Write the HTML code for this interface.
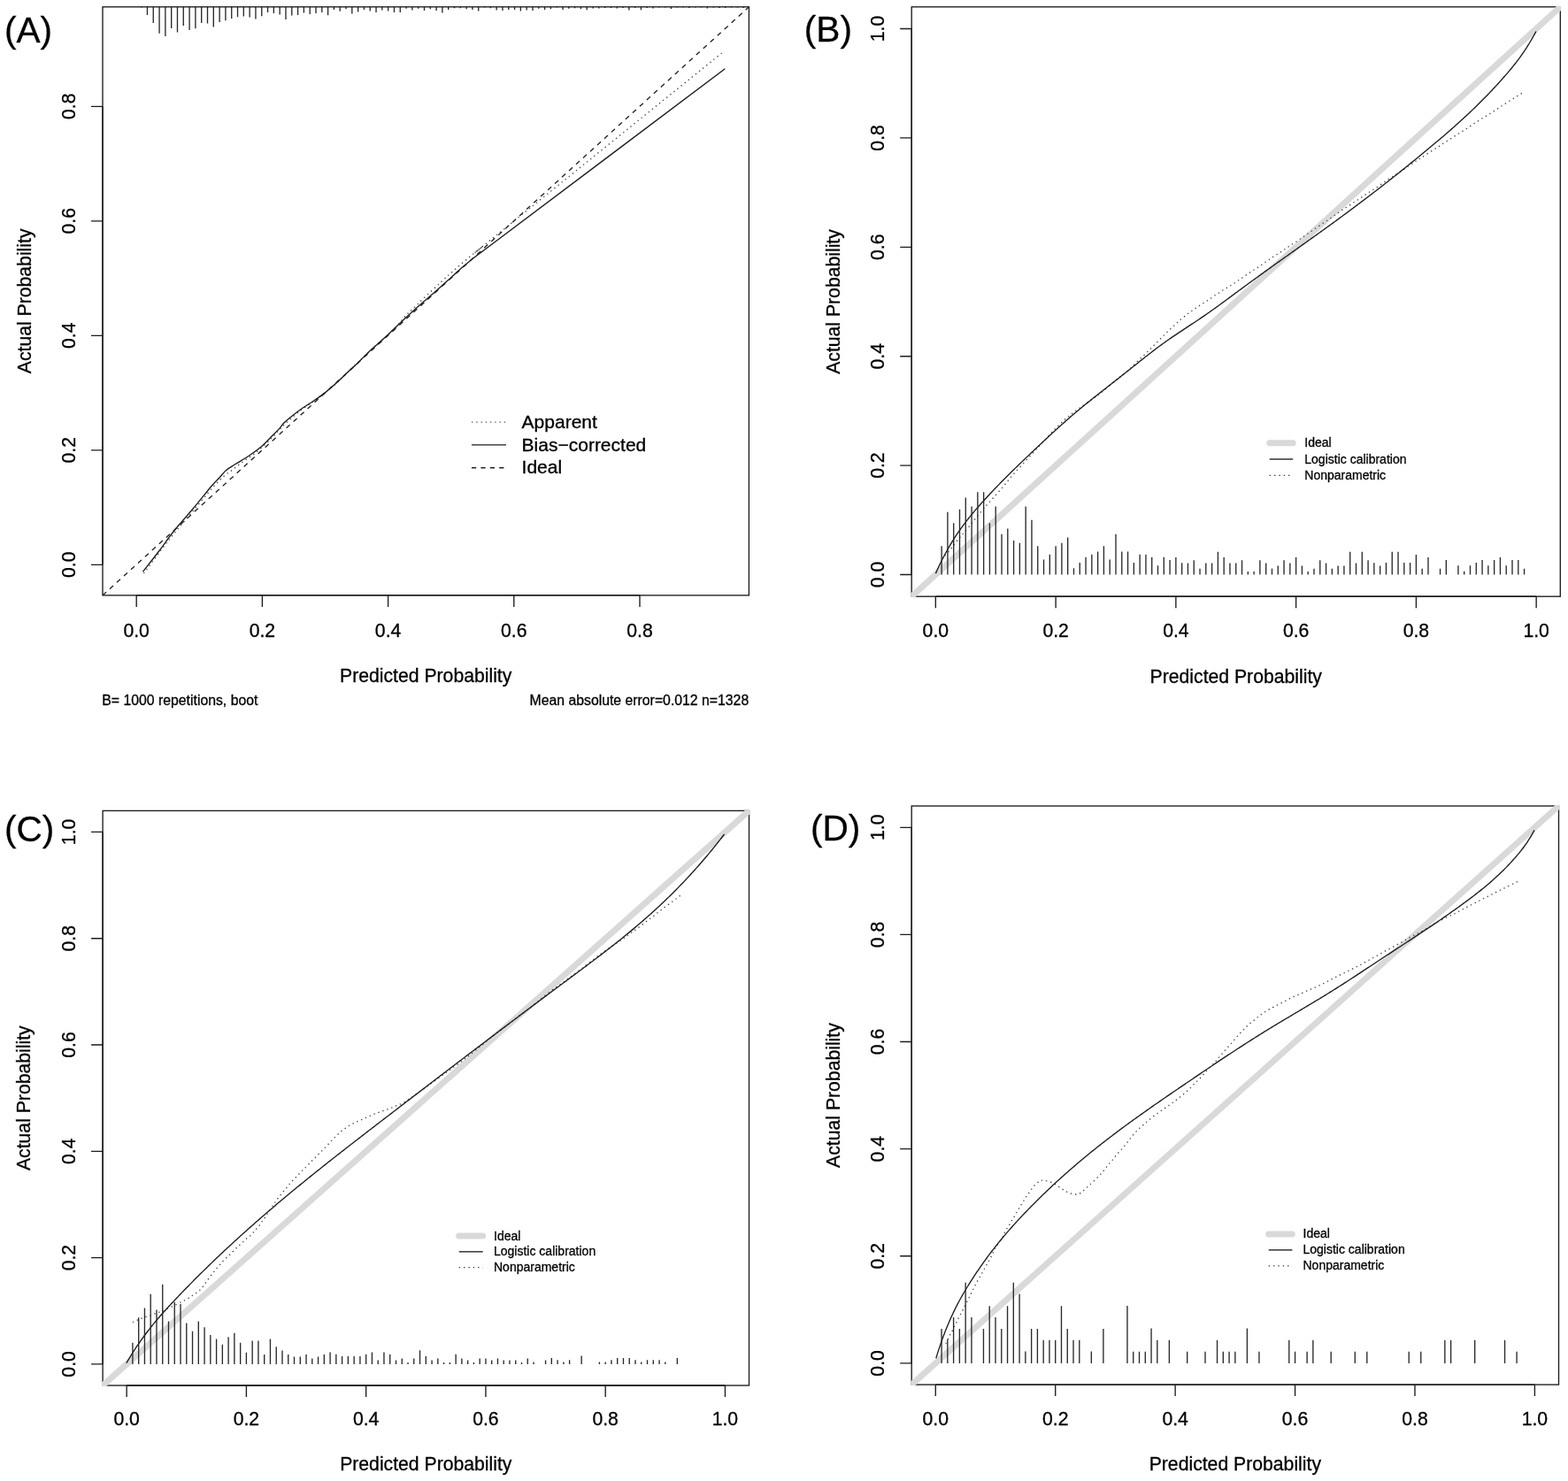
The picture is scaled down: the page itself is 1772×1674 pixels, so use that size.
<!DOCTYPE html>
<html><head><meta charset="utf-8"><title>Calibration curves</title>
<style>html,body{margin:0;padding:0;background:#fff;}svg{display:block;}text{font-family:"Liberation Sans", Arial, Helvetica, sans-serif;fill:#000;stroke:#000;stroke-width:0.3px;}</style>
</head><body>
<svg xmlns="http://www.w3.org/2000/svg" width="1772" height="1674" viewBox="0 0 1772 1674">
<rect width="1772" height="1674" fill="#fff"/>
<defs><clipPath id="cA"><rect x="116" y="7.8" width="730.4" height="665.1"/></clipPath><clipPath id="cB"><rect x="1030.2" y="7.8" width="733.1" height="666.4"/></clipPath><clipPath id="cC"><rect x="116.1" y="916.4" width="730.4" height="649.6"/></clipPath><clipPath id="cD"><rect x="1030.2" y="911" width="731.3" height="654.1"/></clipPath><clipPath id="gB"><rect x="1029.2" y="6.8" width="735.1" height="668.4"/></clipPath><clipPath id="gC"><rect x="115.1" y="915.4" width="732.4" height="651.6"/></clipPath><clipPath id="gD"><rect x="1029.2" y="910" width="733.3" height="656.1"/></clipPath></defs>
<path d="M154.2 672.9 V685.9 M296.4 672.9 V685.9 M438.6 672.9 V685.9 M580.8 672.9 V685.9 M723 672.9 V685.9 M116 638.3 H103 M116 508.8 H103 M116 379.3 H103 M116 249.8 H103 M116 120.3 H103 M154.2 672.9 H723 M116 638.3 V120.3" stroke="#1c1c1c" stroke-width="1.35" fill="none"/>
<text x="154.2" y="720" text-anchor="middle" font-size="21.2">0.0</text>
<text x="296.4" y="720" text-anchor="middle" font-size="21.2">0.2</text>
<text x="438.6" y="720" text-anchor="middle" font-size="21.2">0.4</text>
<text x="580.8" y="720" text-anchor="middle" font-size="21.2">0.6</text>
<text x="723" y="720" text-anchor="middle" font-size="21.2">0.8</text>
<text transform="translate(85.2 638.3) rotate(-90)" text-anchor="middle" font-size="21.2">0.0</text>
<text transform="translate(85.2 508.8) rotate(-90)" text-anchor="middle" font-size="21.2">0.2</text>
<text transform="translate(85.2 379.3) rotate(-90)" text-anchor="middle" font-size="21.2">0.4</text>
<text transform="translate(85.2 249.8) rotate(-90)" text-anchor="middle" font-size="21.2">0.6</text>
<text transform="translate(85.2 120.3) rotate(-90)" text-anchor="middle" font-size="21.2">0.8</text>
<text x="481.2" y="771.3" text-anchor="middle" font-size="21.2">Predicted Probability</text>
<text transform="translate(34.9 340.35) rotate(-90)" text-anchor="middle" font-size="21.2">Actual Probability</text>
<path d="M159.65 7.8 v0.6 M166.46 7.8 v9.1 M173.26 7.8 v18.1 M180.06 7.8 v30 M186.87 7.8 v33.3 M193.68 7.8 v24.2 M200.48 7.8 v28.7 M207.28 7.8 v21.1 M214.09 7.8 v26.2 M220.9 7.8 v24.4 M227.7 7.8 v18.1 M234.5 7.8 v18.8 M241.31 7.8 v22.6 M248.12 7.8 v17.3 M254.92 7.8 v15.4 M261.73 7.8 v13.2 M268.53 7.8 v11.4 M275.34 7.8 v10.7 M282.14 7.8 v11.7 M288.94 7.8 v13.7 M295.75 7.8 v10.4 M302.56 7.8 v6.3 M309.36 7.8 v7.3 M316.16 7.8 v8.6 M322.97 7.8 v14.2 M329.77 7.8 v9.7 M336.58 7.8 v9.1 M343.38 7.8 v6.6 M350.19 7.8 v8.3 M357 7.8 v7.3 M363.8 7.8 v6.3 M370.61 7.8 v9.5 M377.41 7.8 v3.1 M384.22 7.8 v4.9 M391.02 7.8 v2.5 M397.82 7.8 v7.6 M404.63 7.8 v5.6 M411.44 7.8 v3.3 M418.24 7.8 v4.6 M425.04 7.8 v6.1 M431.85 7.8 v3.6 M438.65 7.8 v4.6 M445.46 7.8 v6.1 M452.26 7.8 v6.1 M459.07 7.8 v2 M465.88 7.8 v3.6 M472.68 7.8 v2 M479.49 7.8 v4.1 M486.29 7.8 v2.5 M493.1 7.8 v4.1 M499.9 7.8 v6.6 M506.71 7.8 v3.1 M513.51 7.8 v1.5 M520.31 7.8 v1.5 M527.12 7.8 v2.5 M533.92 7.8 v3.3 M540.73 7.8 v4.6 M547.53 7.8 v0.6 M554.34 7.8 v1.5 M561.14 7.8 v3.6 M567.95 7.8 v4.1 M574.75 7.8 v3.1 M581.56 7.8 v3.1 M588.37 7.8 v4.6 M595.17 7.8 v3.6 M601.98 7.8 v4.1 M608.78 7.8 v2 M615.59 7.8 v3.1 M622.39 7.8 v2.5 M629.19 7.8 v0.6 M636 7.8 v3.3 M642.8 7.8 v2 M649.61 7.8 v1.5 M656.41 7.8 v2.5 M663.22 7.8 v3.4 M670.02 7.8 v1.7 M676.83 7.8 v1.7 M683.63 7.8 v1.2 M690.44 7.8 v1.2 M697.25 7.8 v1.7 M704.05 7.8 v1.2 M710.85 7.8 v3.6 M717.66 7.8 v1.2 M724.46 7.8 v3.4 M731.27 7.8 v1.2 M738.07 7.8 v1.7 M744.88 7.8 v0.7 M751.68 7.8 v0.7 M758.49 7.8 v2.3 M765.29 7.8 v0.7 M772.1 7.8 v0.6 M778.9 7.8 v1.2 M785.71 7.8 v0.7 M792.51 7.8 v0.7 M799.32 7.8 v1.7 M806.12 7.8 v0.7 M812.93 7.8 v1.2 M819.73 7.8 v1.2 M826.54 7.8 v0.6 M833.34 7.8 v0.6 M840.15 7.8 v1.2" stroke="#2a2a2a" stroke-width="1.35" fill="none"/>
<g clip-path="url(#cA)">
<line x1="116" y1="672.9" x2="846.4" y2="7.8" stroke="#222" stroke-width="1.35" stroke-dasharray="5.4 5.4"/>
<path d="M162.5 648 C165.42 644.08 174.17 632.17 180 624.5 C185.83 616.83 191.08 609.92 197.5 602 C203.92 594.08 211.42 585.42 218.5 577 C225.58 568.58 234.2 558 240 551.5 C245.8 545 249.58 541.35 253.3 538 C257.02 534.65 259.42 533.6 262.3 531.4 C265.18 529.2 267.72 526.98 270.6 524.8 C273.48 522.62 276.52 520.48 279.6 518.3 C282.68 516.12 285.62 514.5 289.1 511.7 C292.58 508.9 297.2 504.58 300.5 501.5 C303.8 498.42 306.32 495.88 308.9 493.2 C311.48 490.52 313.62 487.9 316 485.4 C318.38 482.9 319.7 481.43 323.2 478.2 C326.7 474.97 331.53 470.32 337 466 C342.47 461.68 349.33 457.33 356 452.3 C362.67 447.27 370.55 441.3 377 435.8 C383.45 430.3 388.37 425.33 394.7 419.3 C401.03 413.27 408.02 406.1 415 399.6 C421.98 393.1 430.93 385.53 436.6 380.3 C442.27 375.07 445.32 372.18 449 368.2 C452.68 364.22 455.73 359.6 458.7 356.4 C461.67 353.2 463.5 352.17 466.8 349 C470.1 345.83 473.2 342.47 478.5 337.4 C483.8 332.33 492.53 324.18 498.6 318.6 C504.67 313.02 509.4 308.72 514.9 303.9 C520.4 299.08 526.58 293.85 531.6 289.7 C536.62 285.55 540.27 282.83 545 279 C549.73 275.17 514.5 303.52 560 266.7 C605.5 229.88 775 92.87 818 58.1" stroke="#444" stroke-width="1.35" fill="none" stroke-dasharray="1.35 3.9"/>
<path d="M161.5 646.3 C164.58 642.33 174.13 630.22 180 622.5 C185.87 614.78 190.38 607.87 196.7 600 C203.02 592.13 210.78 583.8 217.9 575.3 C225.02 566.8 234.4 554.88 239.4 549 C244.4 543.12 245.18 542.93 247.9 540 C250.62 537.07 252.72 533.93 255.7 531.4 C258.68 528.87 261.42 527.58 265.8 524.8 C270.18 522.02 277.02 518.08 282 514.7 C286.98 511.32 291.42 508.18 295.7 504.5 C299.98 500.82 304.52 495.78 307.7 492.6 C310.88 489.42 312.52 487.9 314.8 485.4 C317.08 482.9 318.87 480.13 321.4 477.6 C323.93 475.07 326.58 472.93 330 470.2 C333.42 467.47 337.92 463.98 341.9 461.2 C345.88 458.42 349.92 456.18 353.9 453.5 C357.88 450.82 361.82 448.18 365.8 445.1 C369.78 442.02 372.98 439.33 377.8 435 C382.62 430.67 390.28 423.23 394.7 419.1 C399.12 414.97 400.9 413.48 404.3 410.2 C407.7 406.92 411.52 402.82 415.1 399.4 C418.68 395.98 422.22 392.92 425.8 389.7 C429.38 386.48 433.02 383.43 436.6 380.1 C440.18 376.77 444.23 372.65 447.3 369.7 C450.37 366.75 450.72 366.35 455 362.4 C459.28 358.45 466.82 351.47 473 346 C479.18 340.53 485.93 335.03 492.1 329.6 C498.27 324.17 505.02 317.9 510 313.4 C514.98 308.9 518.33 305.8 522 302.6 C525.67 299.4 528.17 297.27 532 294.2 C535.83 291.13 540.33 287.73 545 284.2 C549.67 280.67 514.28 307.42 560 273 C605.72 238.58 776.08 110.25 819.3 77.7" stroke="#1c1c1c" stroke-width="1.35" fill="none"/>
</g>
<rect x="116" y="7.8" width="730.4" height="665.1" fill="none" stroke="#1c1c1c" stroke-width="1.35"/>
<line x1="533" y1="477.1" x2="572" y2="477.1" stroke="#555" stroke-width="1.35" stroke-dasharray="1.35 3.9"/>
<line x1="533" y1="502.8" x2="572" y2="502.8" stroke="#1c1c1c" stroke-width="1.35"/>
<line x1="533" y1="528.7" x2="572" y2="528.7" stroke="#222" stroke-width="1.35" stroke-dasharray="5.2 5.2"/>
<text x="589.6" y="484.0" font-size="21">Apparent</text>
<text x="589.6" y="509.6" font-size="21">Bias−corrected</text>
<text x="589.6" y="535.3" font-size="21">Ideal</text>
<text x="115.3" y="797.3" font-size="15.8">B= 1000 repetitions, boot</text>
<text x="846.2" y="797.3" font-size="15.8" text-anchor="end">Mean absolute error=0.012 n=1328</text>
<text x="4.9" y="47.6" font-size="40.6">(A)</text>
<path d="M1057.35 674.2 V687.2 M1193.11 674.2 V687.2 M1328.87 674.2 V687.2 M1464.63 674.2 V687.2 M1600.39 674.2 V687.2 M1736.15 674.2 V687.2 M1030.2 649.5 H1017.2 M1030.2 526.1 H1017.2 M1030.2 402.7 H1017.2 M1030.2 279.3 H1017.2 M1030.2 155.9 H1017.2 M1030.2 32.5 H1017.2 M1057.35 674.2 H1736.15 M1030.2 649.5 V32.5" stroke="#1c1c1c" stroke-width="1.35" fill="none"/>
<text x="1057.35" y="720.3" text-anchor="middle" font-size="21.2">0.0</text>
<text x="1193.11" y="720.3" text-anchor="middle" font-size="21.2">0.2</text>
<text x="1328.87" y="720.3" text-anchor="middle" font-size="21.2">0.4</text>
<text x="1464.63" y="720.3" text-anchor="middle" font-size="21.2">0.6</text>
<text x="1600.39" y="720.3" text-anchor="middle" font-size="21.2">0.8</text>
<text x="1736.15" y="720.3" text-anchor="middle" font-size="21.2">1.0</text>
<text transform="translate(999.3 649.5) rotate(-90)" text-anchor="middle" font-size="21.2">0.0</text>
<text transform="translate(999.3 526.1) rotate(-90)" text-anchor="middle" font-size="21.2">0.2</text>
<text transform="translate(999.3 402.7) rotate(-90)" text-anchor="middle" font-size="21.2">0.4</text>
<text transform="translate(999.3 279.3) rotate(-90)" text-anchor="middle" font-size="21.2">0.6</text>
<text transform="translate(999.3 155.9) rotate(-90)" text-anchor="middle" font-size="21.2">0.8</text>
<text transform="translate(999.3 32.5) rotate(-90)" text-anchor="middle" font-size="21.2">1.0</text>
<text x="1396.75" y="771.5" text-anchor="middle" font-size="21.2">Predicted Probability</text>
<text transform="translate(948.5 341) rotate(-90)" text-anchor="middle" font-size="21.2">Actual Probability</text>
<rect x="1030.2" y="7.8" width="733.1" height="666.4" fill="none" stroke="#1c1c1c" stroke-width="1.35"/>
<line x1="1030.2" y1="674.2" x2="1763.3" y2="7.8" stroke="#d9d9d9" stroke-width="7" stroke-linecap="round" clip-path="url(#gB)"/>
<g clip-path="url(#cB)">
<path d="M1068 628.2 C1068.8 627.2 1071.38 623.88 1072.8 622.2 C1074.22 620.52 1075.43 619.48 1076.5 618.1 C1077.57 616.72 1078.12 615.32 1079.2 613.9 C1080.28 612.48 1081.8 611.02 1083 609.6 C1084.2 608.18 1085.22 606.82 1086.4 605.4 C1087.58 603.98 1088.15 603.38 1090.1 601.1 C1092.05 598.82 1095.68 594.67 1098.1 591.7 C1100.52 588.73 1102.43 586 1104.6 583.3 C1106.77 580.6 1109.4 577.5 1111.1 575.5 C1112.8 573.5 1112.95 573.38 1114.8 571.3 C1116.65 569.22 1119.12 566.47 1122.2 563 C1125.28 559.53 1129.75 554.67 1133.3 550.5 C1136.85 546.33 1139.95 542.1 1143.5 538 C1147.05 533.9 1150.9 529.92 1154.6 525.9 C1158.3 521.88 1162.45 517.45 1165.7 513.9 C1168.95 510.35 1171.55 507.38 1174.1 504.6 C1176.65 501.82 1177.92 500.53 1181 497.2 C1184.08 493.87 1188.7 488.58 1192.6 484.6 C1196.5 480.62 1200.28 476.88 1204.4 473.3 C1208.52 469.72 1213.03 466.27 1217.3 463.1 C1221.57 459.93 1225.38 457.6 1230 454.3 C1234.62 451 1240 447.25 1245 443.3 C1250 439.35 1255.22 434.53 1260 430.6 C1264.78 426.67 1270.7 422.15 1273.7 419.7 C1276.7 417.25 1276.62 417.2 1278 415.9 C1279.38 414.6 1280.7 413.2 1282 411.9 C1283.3 410.6 1284.55 409.32 1285.8 408.1 C1287.05 406.88 1288.22 405.8 1289.5 404.6 C1290.78 403.4 1292.15 402.2 1293.5 400.9 C1294.85 399.6 1296.3 398.1 1297.6 396.8 C1298.9 395.5 1300 394.4 1301.3 393.1 C1302.6 391.8 1304.05 390.35 1305.4 389 C1306.75 387.65 1308.1 386.3 1309.4 385 C1310.7 383.7 1311.95 382.45 1313.2 381.2 C1314.45 379.95 1315.6 378.8 1316.9 377.5 C1318.2 376.2 1319.65 374.7 1321 373.4 C1322.35 372.1 1323.67 370.95 1325 369.7 C1326.33 368.45 1327.65 367.15 1329 365.9 C1330.35 364.65 1331 363.97 1333.1 362.2 C1335.2 360.43 1339.42 357.03 1341.6 355.3 C1343.78 353.57 1344.67 352.92 1346.2 351.8 C1347.73 350.68 1349.28 349.63 1350.8 348.6 C1352.32 347.57 1353.78 346.58 1355.3 345.6 C1356.82 344.62 1358.37 343.68 1359.9 342.7 C1361.43 341.72 1362.98 340.68 1364.5 339.7 C1366.02 338.72 1367.48 337.83 1369 336.8 C1370.52 335.77 1372.07 334.53 1373.6 333.5 C1375.13 332.47 1376.68 331.58 1378.2 330.6 C1379.72 329.62 1381.13 328.58 1382.7 327.6 C1384.27 326.62 1386.02 325.63 1387.6 324.7 C1389.18 323.77 1390.68 322.98 1392.2 322 C1393.72 321.02 1395.18 319.83 1396.7 318.8 C1398.22 317.77 1399.77 316.83 1401.3 315.8 C1402.83 314.77 1404.38 313.67 1405.9 312.6 C1407.42 311.53 1408.88 310.43 1410.4 309.4 C1411.92 308.37 1413.47 307.4 1415 306.4 C1416.53 305.4 1418.08 304.38 1419.6 303.4 C1421.12 302.42 1422.58 301.52 1424.1 300.5 C1425.62 299.48 1427.18 298.35 1428.7 297.3 C1430.22 296.25 1431.68 295.25 1433.2 294.2 C1434.72 293.15 1436.27 292.03 1437.8 291 C1439.33 289.97 1440.88 288.98 1442.4 288 C1443.92 287.02 1445.38 286.08 1446.9 285.1 C1448.42 284.12 1449.97 283.13 1451.5 282.1 C1453.03 281.07 1454.58 279.93 1456.1 278.9 C1457.62 277.87 1459.08 276.88 1460.6 275.9 C1462.12 274.92 1463.67 274.03 1465.2 273 C1466.73 271.97 1468.27 270.78 1469.8 269.7 C1471.33 268.62 1472.88 267.53 1474.4 266.5 C1475.92 265.47 1477.38 264.53 1478.9 263.5 C1480.42 262.47 1481.97 261.37 1483.5 260.3 C1485.03 259.23 1486.58 258.13 1488.1 257.1 C1489.62 256.07 1491.08 255.13 1492.6 254.1 C1494.12 253.07 1495.67 251.92 1497.2 250.9 C1498.73 249.88 1500.32 249.03 1501.8 248 C1503.28 246.97 1504.63 245.73 1506.1 244.7 C1507.57 243.67 1509.08 242.83 1510.6 241.8 C1512.12 240.77 1513.72 239.53 1515.2 238.5 C1516.68 237.47 1517.93 236.6 1519.5 235.6 C1521.07 234.6 1523 233.55 1524.6 232.5 C1526.2 231.45 1527.58 230.33 1529.1 229.3 C1530.62 228.27 1532.17 227.28 1533.7 226.3 C1535.23 225.32 1536.78 224.42 1538.3 223.4 C1539.82 222.38 1541.28 221.23 1542.8 220.2 C1544.32 219.17 1545.87 218.2 1547.4 217.2 C1548.93 216.2 1550.47 215.18 1552 214.2 C1553.53 213.22 1555.08 212.32 1556.6 211.3 C1558.12 210.28 1559.58 209.18 1561.1 208.1 C1562.62 207.02 1564.17 205.83 1565.7 204.8 C1567.23 203.77 1568.78 202.88 1570.3 201.9 C1571.82 200.92 1573.28 199.85 1574.8 198.9 C1576.32 197.95 1577.92 197.12 1579.4 196.2 C1580.88 195.28 1581.93 194.6 1583.7 193.4 C1585.47 192.2 1587.72 190.58 1590 189 C1592.28 187.42 1595.35 185.3 1597.4 183.9 C1599.45 182.5 1600.68 181.63 1602.3 180.6 C1603.92 179.57 1605.15 178.93 1607.1 177.7 C1609.05 176.47 1611.72 174.7 1614 173.2 C1616.28 171.7 1618.87 169.93 1620.8 168.7 C1622.73 167.47 1624.08 166.78 1625.6 165.8 C1627.12 164.82 1628.38 163.8 1629.9 162.8 C1631.42 161.8 1633.13 160.78 1634.7 159.8 C1636.27 158.82 1637.77 157.88 1639.3 156.9 C1640.83 155.92 1642.38 154.88 1643.9 153.9 C1645.42 152.92 1646.83 151.98 1648.4 151 C1649.97 150.02 1651.73 148.98 1653.3 148 C1654.87 147.02 1656.28 146.08 1657.8 145.1 C1659.32 144.12 1660.87 143.13 1662.4 142.1 C1663.93 141.07 1665.43 139.93 1667 138.9 C1668.57 137.87 1670.23 136.88 1671.8 135.9 C1673.37 134.92 1674.87 133.93 1676.4 133 C1677.93 132.07 1679.48 131.25 1681 130.3 C1682.52 129.35 1683.98 128.28 1685.5 127.3 C1687.02 126.32 1688.57 125.38 1690.1 124.4 C1691.63 123.42 1693.18 122.4 1694.7 121.4 C1696.22 120.4 1697.48 119.52 1699.2 118.4 C1700.92 117.28 1703.03 115.97 1705 114.7 C1706.97 113.43 1709 112.07 1711 110.8 C1713 109.53 1715 108.3 1717 107.1 C1719 105.9 1722 104.18 1723 103.6" stroke="#444" stroke-width="1.35" fill="none" stroke-dasharray="1.35 3.9"/>
<path d="M1057.4 648.1 L1058.9 644.76 1060.4 641.51 1061.9 638.35 1063.4 635.27 1064.91 632.27 1066.41 629.36 1067.91 626.52 1069.41 623.75 1070.91 621.06 1072.41 618.43 1073.91 615.87 1075.41 613.37 1076.91 610.94 1078.42 608.56 1079.92 606.23 1081.42 603.96 1082.92 601.74 1084.42 599.57 1085.92 597.44 1087.42 595.35 1088.92 593.3 1090.42 591.29 1091.93 589.32 1093.43 587.38 1094.93 585.48 1096.43 583.6 1097.93 581.76 1099.43 579.95 1100.93 578.16 1102.43 576.39 1103.93 574.65 1105.44 572.93 1106.94 571.23 1108.44 569.54 1109.94 567.87 1111.44 566.21 1112.94 564.56 1114.44 562.93 1115.94 561.3 1117.44 559.69 1118.95 558.08 1120.45 556.49 1121.95 554.9 1123.45 553.33 1124.95 551.76 1126.45 550.2 1127.95 548.65 1129.45 547.11 1130.95 545.57 1132.46 544.04 1133.96 542.52 1135.46 541.01 1136.96 539.51 1138.46 538.01 1139.96 536.51 1141.46 535.03 1142.96 533.55 1144.46 532.07 1145.97 530.6 1147.47 529.13 1148.97 527.67 1150.47 526.22 1151.97 524.77 1153.47 523.32 1154.97 521.88 1156.47 520.44 1157.97 519 1159.48 517.57 1160.98 516.13 1162.48 514.71 1163.98 513.28 1165.48 511.86 1166.98 510.43 1168.48 509.01 1169.98 507.59 1171.48 506.17 1172.99 504.76 1174.49 503.34 1175.99 501.93 1177.49 500.51 1178.99 499.1 1180.49 497.7 1181.99 496.29 1183.49 494.89 1184.99 493.5 1186.5 492.1 1188 490.71 1189.5 489.33 1191 487.95 1192.5 486.57 1194 485.21 1195.5 483.84 1197 482.48 1198.5 481.13 1200.01 479.79 1201.51 478.45 1203.01 477.12 1204.51 475.79 1206.01 474.48 1207.51 473.17 1209.01 471.87 1210.51 470.57 1212.01 469.29 1213.52 468.01 1215.02 466.74 1216.52 465.48 1218.02 464.22 1219.52 462.97 1221.02 461.73 1222.52 460.49 1224.02 459.26 1225.52 458.03 1227.03 456.81 1228.53 455.6 1230.03 454.38 1231.53 453.18 1233.03 451.97 1234.53 450.77 1236.03 449.58 1237.53 448.38 1239.03 447.19 1240.53 446.01 1242.04 444.82 1243.54 443.64 1245.04 442.46 1246.54 441.28 1248.04 440.1 1249.54 438.93 1251.04 437.75 1252.54 436.58 1254.04 435.4 1255.55 434.23 1257.05 433.05 1258.55 431.88 1260.05 430.7 1261.55 429.53 1263.05 428.35 1264.55 427.17 1266.05 425.99 1267.55 424.81 1269.06 423.63 1270.56 422.44 1272.06 421.25 1273.56 420.06 1275.06 418.86 1276.56 417.67 1278.06 416.47 1279.56 415.27 1281.06 414.07 1282.57 412.87 1284.07 411.68 1285.57 410.48 1287.07 409.28 1288.57 408.09 1290.07 406.9 1291.57 405.71 1293.07 404.52 1294.57 403.34 1296.08 402.17 1297.58 400.99 1299.08 399.83 1300.58 398.66 1302.08 397.51 1303.58 396.36 1305.08 395.21 1306.58 394.08 1308.08 392.95 1309.59 391.83 1311.09 390.72 1312.59 389.62 1314.09 388.53 1315.59 387.45 1317.09 386.38 1318.59 385.32 1320.09 384.26 1321.59 383.22 1323.1 382.18 1324.6 381.15 1326.1 380.13 1327.6 379.11 1329.1 378.1 1330.6 377.09 1332.1 376.09 1333.6 375.09 1335.1 374.09 1336.61 373.1 1338.11 372.11 1339.61 371.12 1341.11 370.13 1342.61 369.14 1344.11 368.16 1345.61 367.17 1347.11 366.18 1348.61 365.19 1350.12 364.19 1351.62 363.19 1353.12 362.19 1354.62 361.19 1356.12 360.18 1357.62 359.17 1359.12 358.15 1360.62 357.12 1362.12 356.09 1363.63 355.05 1365.13 354 1366.63 352.95 1368.13 351.89 1369.63 350.82 1371.13 349.75 1372.63 348.68 1374.13 347.6 1375.63 346.51 1377.14 345.43 1378.64 344.33 1380.14 343.24 1381.64 342.14 1383.14 341.04 1384.64 339.93 1386.14 338.83 1387.64 337.72 1389.14 336.61 1390.65 335.5 1392.15 334.39 1393.65 333.27 1395.15 332.16 1396.65 331.05 1398.15 329.94 1399.65 328.82 1401.15 327.71 1402.65 326.6 1404.16 325.49 1405.66 324.39 1407.16 323.28 1408.66 322.18 1410.16 321.08 1411.66 319.98 1413.16 318.89 1414.66 317.79 1416.16 316.7 1417.67 315.61 1419.17 314.52 1420.67 313.43 1422.17 312.34 1423.67 311.25 1425.17 310.17 1426.67 309.09 1428.17 308.01 1429.67 306.92 1431.18 305.84 1432.68 304.77 1434.18 303.69 1435.68 302.61 1437.18 301.54 1438.68 300.46 1440.18 299.39 1441.68 298.31 1443.18 297.24 1444.69 296.17 1446.19 295.1 1447.69 294.03 1449.19 292.96 1450.69 291.89 1452.19 290.82 1453.69 289.75 1455.19 288.68 1456.69 287.61 1458.2 286.54 1459.7 285.47 1461.2 284.4 1462.7 283.34 1464.2 282.27 1465.7 281.2 1467.2 280.13 1468.7 279.06 1470.2 277.99 1471.71 276.92 1473.21 275.85 1474.71 274.78 1476.21 273.71 1477.71 272.64 1479.21 271.57 1480.71 270.5 1482.21 269.42 1483.71 268.35 1485.22 267.28 1486.72 266.2 1488.22 265.12 1489.72 264.05 1491.22 262.97 1492.72 261.89 1494.22 260.81 1495.72 259.73 1497.22 258.64 1498.73 257.56 1500.23 256.48 1501.73 255.39 1503.23 254.3 1504.73 253.21 1506.23 252.12 1507.73 251.03 1509.23 249.93 1510.73 248.84 1512.24 247.74 1513.74 246.64 1515.24 245.54 1516.74 244.43 1518.24 243.33 1519.74 242.22 1521.24 241.11 1522.74 240 1524.24 238.89 1525.75 237.77 1527.25 236.65 1528.75 235.53 1530.25 234.41 1531.75 233.29 1533.25 232.16 1534.75 231.03 1536.25 229.9 1537.75 228.77 1539.26 227.63 1540.76 226.5 1542.26 225.36 1543.76 224.22 1545.26 223.07 1546.76 221.93 1548.26 220.78 1549.76 219.63 1551.26 218.48 1552.77 217.32 1554.27 216.17 1555.77 215.01 1557.27 213.85 1558.77 212.68 1560.27 211.52 1561.77 210.35 1563.27 209.18 1564.77 208.01 1566.28 206.84 1567.78 205.66 1569.28 204.48 1570.78 203.3 1572.28 202.12 1573.78 200.93 1575.28 199.75 1576.78 198.56 1578.28 197.37 1579.78 196.17 1581.29 194.98 1582.79 193.78 1584.29 192.58 1585.79 191.38 1587.29 190.17 1588.79 188.96 1590.29 187.75 1591.79 186.54 1593.29 185.33 1594.8 184.11 1596.3 182.89 1597.8 181.67 1599.3 180.45 1600.8 179.23 1602.3 178 1603.8 176.77 1605.3 175.54 1606.8 174.3 1608.31 173.07 1609.81 171.83 1611.31 170.59 1612.81 169.35 1614.31 168.1 1615.81 166.85 1617.31 165.6 1618.81 164.35 1620.31 163.09 1621.82 161.83 1623.32 160.57 1624.82 159.3 1626.32 158.03 1627.82 156.75 1629.32 155.47 1630.82 154.19 1632.32 152.9 1633.82 151.6 1635.33 150.3 1636.83 149 1638.33 147.69 1639.83 146.37 1641.33 145.05 1642.83 143.72 1644.33 142.39 1645.83 141.05 1647.33 139.7 1648.84 138.34 1650.34 136.98 1651.84 135.61 1653.34 134.24 1654.84 132.85 1656.34 131.46 1657.84 130.06 1659.34 128.65 1660.84 127.24 1662.35 125.81 1663.85 124.38 1665.35 122.94 1666.85 121.48 1668.35 120.02 1669.85 118.55 1671.35 117.07 1672.85 115.58 1674.35 114.08 1675.86 112.57 1677.36 111.05 1678.86 109.51 1680.36 107.97 1681.86 106.41 1683.36 104.85 1684.86 103.27 1686.36 101.68 1687.86 100.08 1689.37 98.47 1690.87 96.84 1692.37 95.2 1693.87 93.55 1695.37 91.89 1696.87 90.21 1698.37 88.52 1699.87 86.82 1701.37 85.1 1702.88 83.37 1704.38 81.62 1705.88 79.84 1707.38 78.05 1708.88 76.22 1710.38 74.36 1711.88 72.47 1713.38 70.55 1714.88 68.59 1716.39 66.58 1717.89 64.53 1719.39 62.44 1720.89 60.29 1722.39 58.1 1723.89 55.85 1725.39 53.54 1726.89 51.16 1728.39 48.73 1729.9 46.23 1731.4 43.66 1732.9 41.02 1734.4 38.3 1735.9 35.51" stroke="#1c1c1c" stroke-width="1.35" fill="none"/>
</g>
<path d="M1064.14 649.5 v-32.3 M1070.93 649.5 v-70.8 M1077.71 649.5 v-58.2 M1084.5 649.5 v-73.8 M1091.29 649.5 v-86.9 M1098.08 649.5 v-77.1 M1104.87 649.5 v-93.2 M1111.65 649.5 v-93.2 M1118.44 649.5 v-58.2 M1125.23 649.5 v-77.1 M1132.02 649.5 v-45.7 M1138.81 649.5 v-52 M1145.59 649.5 v-38.5 M1152.38 649.5 v-35.8 M1159.17 649.5 v-77.1 M1165.96 649.5 v-61.8 M1172.75 649.5 v-32.3 M1179.53 649.5 v-17 M1186.32 649.5 v-22.8 M1193.11 649.5 v-32.3 M1199.9 649.5 v-35.8 M1206.69 649.5 v-42.1 M1213.47 649.5 v-7.2 M1220.26 649.5 v-13.4 M1227.05 649.5 v-19.7 M1233.84 649.5 v-22.8 M1240.63 649.5 v-26 M1247.41 649.5 v-32.3 M1254.2 649.5 v-17 M1260.99 649.5 v-45.7 M1267.78 649.5 v-26 M1274.57 649.5 v-26 M1281.35 649.5 v-13.4 M1288.14 649.5 v-22.8 M1294.93 649.5 v-22.8 M1301.72 649.5 v-19.7 M1308.51 649.5 v-10.2 M1315.29 649.5 v-19.7 M1322.08 649.5 v-16.5 M1328.87 649.5 v-19.6 M1335.66 649.5 v-13.2 M1342.45 649.5 v-13.1 M1349.23 649.5 v-16.3 M1356.02 649.5 v-6.8 M1362.81 649.5 v-13.1 M1369.6 649.5 v-13.1 M1376.39 649.5 v-25.7 M1383.17 649.5 v-19.4 M1389.96 649.5 v-13.1 M1396.75 649.5 v-13.1 M1403.54 649.5 v-16.3 M1410.33 649.5 v-3.4 M1417.11 649.5 v-3.4 M1423.9 649.5 v-16.3 M1430.69 649.5 v-13.1 M1437.48 649.5 v-6.8 M1444.27 649.5 v-9.9 M1451.05 649.5 v-16.3 M1457.84 649.5 v-13.1 M1464.63 649.5 v-19.4 M1471.42 649.5 v-9.9 M1478.21 649.5 v-3.4 M1484.99 649.5 v-6.8 M1491.78 649.5 v-16.3 M1498.57 649.5 v-13.1 M1505.36 649.5 v-6.8 M1512.15 649.5 v-9.9 M1518.93 649.5 v-9.9 M1525.72 649.5 v-25.7 M1532.51 649.5 v-13.1 M1539.3 649.5 v-25.7 M1546.09 649.5 v-16.3 M1552.87 649.5 v-13.3 M1559.66 649.5 v-10 M1566.45 649.5 v-13.4 M1573.24 649.5 v-25.8 M1580.03 649.5 v-25.8 M1586.81 649.5 v-13.4 M1593.6 649.5 v-13.4 M1600.39 649.5 v-22.6 M1607.18 649.5 v-6.8 M1613.97 649.5 v-19.6 M1627.54 649.5 v-6.8 M1634.33 649.5 v-16.4 M1647.91 649.5 v-10.2 M1654.69 649.5 v-3.7 M1661.48 649.5 v-10.2 M1668.27 649.5 v-13.4 M1675.06 649.5 v-16.4 M1681.85 649.5 v-10.2 M1688.63 649.5 v-16.4 M1695.42 649.5 v-19.6 M1702.21 649.5 v-10.2 M1709 649.5 v-16.4 M1715.79 649.5 v-16.4 M1722.57 649.5 v-6.8" stroke="#2a2a2a" stroke-width="1.35" fill="none"/>
<line x1="1434.7" y1="500.7" x2="1461.2" y2="500.7" stroke="#d9d9d9" stroke-width="7" stroke-linecap="round"/>
<line x1="1434.7" y1="519" x2="1461.2" y2="519" stroke="#1c1c1c" stroke-width="1.35"/>
<line x1="1434.7" y1="537.3" x2="1461.2" y2="537.3" stroke="#333" stroke-width="1.35" stroke-dasharray="1.35 4" />
<text x="1474.3" y="505.3" font-size="14">Ideal</text>
<text x="1474.3" y="523.6" font-size="14">Logistic calibration</text>
<text x="1474.3" y="541.9" font-size="14">Nonparametric</text>
<text x="908.8" y="47.2" font-size="40.6">(B)</text>
<path d="M143.15 1566 V1579 M278.41 1566 V1579 M413.67 1566 V1579 M548.93 1566 V1579 M684.19 1566 V1579 M819.45 1566 V1579 M116.1 1541.9 H103.1 M116.1 1421.6 H103.1 M116.1 1301.3 H103.1 M116.1 1181 H103.1 M116.1 1060.7 H103.1 M116.1 940.4 H103.1 M143.15 1566 H819.45 M116.1 1541.9 V940.4" stroke="#1c1c1c" stroke-width="1.35" fill="none"/>
<text x="143.15" y="1611" text-anchor="middle" font-size="21.2">0.0</text>
<text x="278.41" y="1611" text-anchor="middle" font-size="21.2">0.2</text>
<text x="413.67" y="1611" text-anchor="middle" font-size="21.2">0.4</text>
<text x="548.93" y="1611" text-anchor="middle" font-size="21.2">0.6</text>
<text x="684.19" y="1611" text-anchor="middle" font-size="21.2">0.8</text>
<text x="819.45" y="1611" text-anchor="middle" font-size="21.2">1.0</text>
<text transform="translate(85.2 1541.9) rotate(-90)" text-anchor="middle" font-size="21.2">0.0</text>
<text transform="translate(85.2 1421.6) rotate(-90)" text-anchor="middle" font-size="21.2">0.2</text>
<text transform="translate(85.2 1301.3) rotate(-90)" text-anchor="middle" font-size="21.2">0.4</text>
<text transform="translate(85.2 1181) rotate(-90)" text-anchor="middle" font-size="21.2">0.6</text>
<text transform="translate(85.2 1060.7) rotate(-90)" text-anchor="middle" font-size="21.2">0.8</text>
<text transform="translate(85.2 940.4) rotate(-90)" text-anchor="middle" font-size="21.2">1.0</text>
<text x="481.3" y="1661.5" text-anchor="middle" font-size="21.2">Predicted Probability</text>
<text transform="translate(34.4 1241.2) rotate(-90)" text-anchor="middle" font-size="21.2">Actual Probability</text>
<rect x="116.1" y="916.4" width="730.4" height="649.6" fill="none" stroke="#1c1c1c" stroke-width="1.35"/>
<line x1="116.1" y1="1566" x2="846.5" y2="916.4" stroke="#d9d9d9" stroke-width="7" stroke-linecap="round" clip-path="url(#gC)"/>
<g clip-path="url(#cC)">
<path d="M149.9 1494.6 C151.03 1494.08 154.43 1492.47 156.7 1491.5 C158.97 1490.53 161.25 1489.6 163.5 1488.8 C165.75 1488 167.95 1487.5 170.2 1486.7 C172.45 1485.9 174.73 1484.78 177 1484 C179.27 1483.22 181.55 1482.9 183.8 1482 C186.05 1481.1 188.25 1479.68 190.5 1478.6 C192.75 1477.52 194.87 1476.68 197.3 1475.5 C199.73 1474.32 203 1472.55 205.1 1471.5 C207.2 1470.45 208.32 1470.08 209.9 1469.2 C211.48 1468.32 213.07 1467.2 214.6 1466.2 C216.13 1465.2 217.6 1464.25 219.1 1463.2 C220.6 1462.15 222.15 1461.05 223.6 1459.9 C225.05 1458.75 226.6 1457.6 227.8 1456.3 C229 1455 229.75 1453.55 230.8 1452.1 C231.85 1450.65 233.02 1449.08 234.1 1447.6 C235.18 1446.12 236.22 1444.63 237.3 1443.2 C238.38 1441.77 239.5 1440.4 240.6 1439 C241.7 1437.6 242.75 1436.2 243.9 1434.8 C245.05 1433.4 246.3 1432 247.5 1430.6 C248.7 1429.2 249.85 1427.73 251.1 1426.4 C252.35 1425.07 253.7 1423.83 255 1422.6 C256.3 1421.37 257.62 1420.25 258.9 1419 C260.18 1417.75 261.42 1416.4 262.7 1415.1 C263.98 1413.8 265.3 1412.45 266.6 1411.2 C267.9 1409.95 269.2 1408.8 270.5 1407.6 C271.8 1406.4 273.05 1405.27 274.4 1404 C275.75 1402.73 277.18 1401.22 278.6 1400 C280.02 1398.78 281.58 1397.88 282.9 1396.7 C284.22 1395.52 285.32 1394.22 286.5 1392.9 C287.68 1391.58 288.82 1390.2 290 1388.8 C291.18 1387.4 292.52 1385.97 293.6 1384.5 C294.68 1383.03 295.47 1381.47 296.5 1380 C297.53 1378.53 297.77 1378.68 299.8 1375.7 C301.83 1372.72 306.7 1365.08 308.7 1362.1 C310.7 1359.12 310.73 1359.28 311.8 1357.8 C312.87 1356.32 313.98 1354.68 315.1 1353.2 C316.22 1351.72 317.33 1350.33 318.5 1348.9 C319.67 1347.47 320.95 1346 322.1 1344.6 C323.25 1343.2 324.3 1341.85 325.4 1340.5 C326.5 1339.15 327.5 1337.8 328.7 1336.5 C329.9 1335.2 331.32 1334.02 332.6 1332.7 C333.88 1331.38 335.13 1329.97 336.4 1328.6 C337.67 1327.23 338.88 1325.82 340.2 1324.5 C341.52 1323.18 342.42 1322.6 344.3 1320.7 C346.18 1318.8 348.98 1315.68 351.5 1313.1 C354.02 1310.52 356.87 1307.73 359.4 1305.2 C361.93 1302.67 364.15 1300.53 366.7 1297.9 C369.25 1295.27 372.17 1292.03 374.7 1289.4 C377.23 1286.77 379.98 1283.97 381.9 1282.1 C383.82 1280.23 384.77 1279.37 386.2 1278.2 C387.63 1277.03 389.02 1276.13 390.5 1275.1 C391.98 1274.07 393.55 1272.92 395.1 1272 C396.65 1271.08 398.17 1270.4 399.8 1269.6 C401.43 1268.8 403.22 1267.95 404.9 1267.2 C406.58 1266.45 408.23 1265.83 409.9 1265.1 C411.57 1264.37 413.27 1263.55 414.9 1262.8 C416.53 1262.05 418.07 1261.3 419.7 1260.6 C421.33 1259.9 423 1259.25 424.7 1258.6 C426.4 1257.95 428.15 1257.33 429.9 1256.7 C431.65 1256.07 433.43 1255.42 435.2 1254.8 C436.97 1254.18 438.83 1253.63 440.5 1253 C442.17 1252.37 443.57 1251.7 445.2 1251 C446.83 1250.3 448.62 1249.52 450.3 1248.8 C451.98 1248.08 453.35 1247.75 455.3 1246.7 C457.25 1245.65 457.88 1245.3 462 1242.5 C466.12 1239.7 473.82 1234.32 480 1229.9 C486.18 1225.48 492.73 1220.62 499.1 1216 C505.47 1211.38 511.83 1206.98 518.2 1202.2 C524.57 1197.42 530.33 1192.87 537.3 1187.3 C544.27 1181.73 549.55 1176.97 560 1168.8 C570.45 1160.63 590.15 1145.97 600 1138.3 C609.85 1130.63 612.73 1127.7 619.1 1122.8 C625.47 1117.9 631.83 1113.57 638.2 1108.9 C644.57 1104.23 650.33 1100.03 657.3 1094.8 C664.27 1089.57 673.1 1082.5 680 1077.5 C686.9 1072.5 693.2 1068.6 698.7 1064.8 C704.2 1061 707.75 1058.53 713 1054.7 C718.25 1050.87 724.47 1046.18 730.2 1041.8 C735.93 1037.42 741.67 1032.78 747.4 1028.4 C753.13 1024.02 760.93 1018.28 764.6 1015.5 C768.27 1012.72 768.6 1012.33 769.4 1011.7" stroke="#444" stroke-width="1.35" fill="none" stroke-dasharray="1.35 3.9"/>
<path d="M142.9 1540.7 L144.4 1538.14 145.9 1535.62 147.4 1533.16 148.91 1530.73 150.41 1528.35 151.91 1526.02 153.41 1523.72 154.91 1521.47 156.41 1519.26 157.92 1517.08 159.42 1514.94 160.92 1512.84 162.42 1510.77 163.92 1508.74 165.42 1506.74 166.92 1504.77 168.43 1502.82 169.93 1500.91 171.43 1499.03 172.93 1497.17 174.43 1495.34 175.93 1493.53 177.44 1491.75 178.94 1489.98 180.44 1488.24 181.94 1486.52 183.44 1484.81 184.94 1483.12 186.45 1481.45 187.95 1479.79 189.45 1478.15 190.95 1476.52 192.45 1474.9 193.95 1473.28 195.45 1471.68 196.96 1470.09 198.46 1468.5 199.96 1466.92 201.46 1465.34 202.96 1463.77 204.46 1462.2 205.97 1460.64 207.47 1459.09 208.97 1457.54 210.47 1455.99 211.97 1454.45 213.47 1452.92 214.97 1451.39 216.48 1449.87 217.98 1448.35 219.48 1446.84 220.98 1445.33 222.48 1443.83 223.98 1442.33 225.49 1440.84 226.99 1439.35 228.49 1437.86 229.99 1436.39 231.49 1434.91 232.99 1433.44 234.49 1431.98 236 1430.52 237.5 1429.07 239 1427.61 240.5 1426.17 242 1424.73 243.5 1423.29 245.01 1421.86 246.51 1420.43 248.01 1419.01 249.51 1417.59 251.01 1416.17 252.51 1414.76 254.02 1413.35 255.52 1411.95 257.02 1410.55 258.52 1409.16 260.02 1407.77 261.52 1406.38 263.02 1405 264.53 1403.62 266.03 1402.25 267.53 1400.88 269.03 1399.51 270.53 1398.14 272.03 1396.79 273.54 1395.43 275.04 1394.08 276.54 1392.73 278.04 1391.38 279.54 1390.04 281.04 1388.7 282.54 1387.37 284.05 1386.04 285.55 1384.71 287.05 1383.38 288.55 1382.06 290.05 1380.74 291.55 1379.43 293.06 1378.12 294.56 1376.81 296.06 1375.51 297.56 1374.2 299.06 1372.9 300.56 1371.61 302.06 1370.32 303.57 1369.03 305.07 1367.74 306.57 1366.46 308.07 1365.18 309.57 1363.9 311.07 1362.62 312.58 1361.35 314.08 1360.08 315.58 1358.81 317.08 1357.55 318.58 1356.29 320.08 1355.03 321.59 1353.77 323.09 1352.52 324.59 1351.27 326.09 1350.02 327.59 1348.77 329.09 1347.53 330.59 1346.29 332.1 1345.05 333.6 1343.81 335.1 1342.58 336.6 1341.35 338.1 1340.12 339.6 1338.89 341.11 1337.67 342.61 1336.44 344.11 1335.22 345.61 1334.01 347.11 1332.79 348.61 1331.57 350.11 1330.36 351.62 1329.15 353.12 1327.94 354.62 1326.74 356.12 1325.53 357.62 1324.33 359.12 1323.13 360.63 1321.93 362.13 1320.73 363.63 1319.53 365.13 1318.34 366.63 1317.15 368.13 1315.95 369.63 1314.76 371.14 1313.58 372.64 1312.39 374.14 1311.21 375.64 1310.02 377.14 1308.84 378.64 1307.66 380.15 1306.48 381.65 1305.3 383.15 1304.12 384.65 1302.95 386.15 1301.77 387.65 1300.6 389.16 1299.43 390.66 1298.26 392.16 1297.09 393.66 1295.92 395.16 1294.75 396.66 1293.58 398.16 1292.42 399.67 1291.25 401.17 1290.09 402.67 1288.93 404.17 1287.76 405.67 1286.6 407.17 1285.44 408.68 1284.28 410.18 1283.12 411.68 1281.96 413.18 1280.8 414.68 1279.65 416.18 1278.49 417.68 1277.33 419.19 1276.18 420.69 1275.02 422.19 1273.86 423.69 1272.71 425.19 1271.56 426.69 1270.4 428.2 1269.25 429.7 1268.09 431.2 1266.94 432.7 1265.79 434.2 1264.63 435.7 1263.48 437.2 1262.33 438.71 1261.18 440.21 1260.02 441.71 1258.87 443.21 1257.72 444.71 1256.57 446.21 1255.41 447.72 1254.26 449.22 1253.11 450.72 1251.96 452.22 1250.81 453.72 1249.65 455.22 1248.5 456.73 1247.35 458.23 1246.2 459.73 1245.05 461.23 1243.9 462.73 1242.74 464.23 1241.59 465.73 1240.44 467.24 1239.29 468.74 1238.14 470.24 1236.99 471.74 1235.84 473.24 1234.69 474.74 1233.54 476.25 1232.39 477.75 1231.24 479.25 1230.09 480.75 1228.94 482.25 1227.79 483.75 1226.64 485.25 1225.49 486.76 1224.34 488.26 1223.19 489.76 1222.05 491.26 1220.9 492.76 1219.75 494.26 1218.6 495.77 1217.45 497.27 1216.3 498.77 1215.16 500.27 1214.01 501.77 1212.86 503.27 1211.72 504.77 1210.57 506.28 1209.42 507.78 1208.28 509.28 1207.13 510.78 1205.98 512.28 1204.84 513.78 1203.69 515.29 1202.55 516.79 1201.4 518.29 1200.26 519.79 1199.11 521.29 1197.97 522.79 1196.83 524.3 1195.68 525.8 1194.54 527.3 1193.4 528.8 1192.25 530.3 1191.11 531.8 1189.97 533.3 1188.82 534.81 1187.68 536.31 1186.54 537.81 1185.4 539.31 1184.26 540.81 1183.12 542.31 1181.98 543.82 1180.84 545.32 1179.7 546.82 1178.56 548.32 1177.42 549.82 1176.28 551.32 1175.14 552.82 1174 554.33 1172.86 555.83 1171.72 557.33 1170.59 558.83 1169.45 560.33 1168.31 561.83 1167.18 563.34 1166.04 564.84 1164.9 566.34 1163.77 567.84 1162.63 569.34 1161.5 570.84 1160.36 572.34 1159.23 573.85 1158.09 575.35 1156.96 576.85 1155.83 578.35 1154.7 579.85 1153.56 581.35 1152.43 582.86 1151.3 584.36 1150.17 585.86 1149.04 587.36 1147.91 588.86 1146.78 590.36 1145.65 591.87 1144.52 593.37 1143.39 594.87 1142.26 596.37 1141.13 597.87 1140 599.37 1138.87 600.87 1137.75 602.38 1136.62 603.88 1135.49 605.38 1134.37 606.88 1133.24 608.38 1132.12 609.88 1130.99 611.39 1129.87 612.89 1128.75 614.39 1127.62 615.89 1126.5 617.39 1125.38 618.89 1124.26 620.39 1123.13 621.9 1122.01 623.4 1120.89 624.9 1119.77 626.4 1118.65 627.9 1117.53 629.4 1116.41 630.91 1115.3 632.41 1114.18 633.91 1113.06 635.41 1111.94 636.91 1110.83 638.41 1109.71 639.91 1108.6 641.42 1107.48 642.92 1106.37 644.42 1105.25 645.92 1104.14 647.42 1103.02 648.92 1101.91 650.43 1100.79 651.93 1099.67 653.43 1098.56 654.93 1097.44 656.43 1096.32 657.93 1095.2 659.44 1094.08 660.94 1092.96 662.44 1091.84 663.94 1090.71 665.44 1089.58 666.94 1088.46 668.44 1087.32 669.95 1086.19 671.45 1085.06 672.95 1083.92 674.45 1082.78 675.95 1081.64 677.45 1080.49 678.96 1079.35 680.46 1078.2 681.96 1077.04 683.46 1075.89 684.96 1074.73 686.46 1073.56 687.96 1072.39 689.47 1071.22 690.97 1070.05 692.47 1068.87 693.97 1067.69 695.47 1066.5 696.97 1065.31 698.48 1064.11 699.98 1062.91 701.48 1061.71 702.98 1060.5 704.48 1059.28 705.98 1058.06 707.48 1056.84 708.99 1055.61 710.49 1054.37 711.99 1053.13 713.49 1051.88 714.99 1050.63 716.49 1049.37 718 1048.11 719.5 1046.84 721 1045.56 722.5 1044.27 724 1042.98 725.5 1041.68 727.01 1040.38 728.51 1039.07 730.01 1037.75 731.51 1036.42 733.01 1035.09 734.51 1033.75 736.01 1032.4 737.52 1031.05 739.02 1029.68 740.52 1028.31 742.02 1026.93 743.52 1025.54 745.02 1024.15 746.53 1022.74 748.03 1021.33 749.53 1019.9 751.03 1018.47 752.53 1017.03 754.03 1015.58 755.53 1014.12 757.04 1012.65 758.54 1011.18 760.04 1009.69 761.54 1008.19 763.04 1006.69 764.54 1005.17 766.05 1003.64 767.55 1002.1 769.05 1000.56 770.55 999 772.05 997.43 773.55 995.85 775.05 994.26 776.56 992.66 778.06 991.04 779.56 989.42 781.06 987.78 782.56 986.13 784.06 984.48 785.57 982.8 787.07 981.12 788.57 979.43 790.07 977.72 791.57 976 793.07 974.27 794.58 972.53 796.08 970.77 797.58 969 799.08 967.22 800.58 965.42 802.08 963.61 803.58 961.79 805.09 959.95 806.59 958.11 808.09 956.24 809.59 954.37 811.09 952.48 812.59 950.57 814.1 948.65 815.6 946.72 817.1 944.77 818.6 942.81" stroke="#1c1c1c" stroke-width="1.35" fill="none"/>
</g>
<path d="M149.91 1541.9 v-24.1 M156.68 1541.9 v-52.6 M163.44 1541.9 v-63.4 M170.2 1541.9 v-79.2 M176.97 1541.9 v-61.4 M183.73 1541.9 v-90.1 M190.49 1541.9 v-48.4 M197.25 1541.9 v-70.2 M204.02 1541.9 v-68 M210.78 1541.9 v-46.3 M217.54 1541.9 v-37.2 M224.31 1541.9 v-48.4 M231.07 1541.9 v-41.6 M237.83 1541.9 v-32.8 M244.59 1541.9 v-28.4 M251.36 1541.9 v-22.1 M258.12 1541.9 v-30.7 M264.88 1541.9 v-35.2 M271.65 1541.9 v-24.1 M278.41 1541.9 v-13.1 M285.17 1541.9 v-26.4 M291.94 1541.9 v-26.4 M298.7 1541.9 v-10.8 M305.46 1541.9 v-28.4 M312.23 1541.9 v-19.6 M318.99 1541.9 v-15.3 M325.75 1541.9 v-10.8 M332.51 1541.9 v-8.5 M339.28 1541.9 v-8.5 M346.04 1541.9 v-10.8 M352.8 1541.9 v-6.4 M359.57 1541.9 v-8.5 M366.33 1541.9 v-10.8 M373.09 1541.9 v-13.5 M379.85 1541.9 v-11.1 M386.62 1541.9 v-8.8 M393.38 1541.9 v-8.8 M400.14 1541.9 v-8.8 M406.91 1541.9 v-8.8 M413.67 1541.9 v-11.1 M420.43 1541.9 v-13.5 M427.2 1541.9 v-4.3 M433.96 1541.9 v-13.5 M440.72 1541.9 v-11.1 M447.49 1541.9 v-4.3 M454.25 1541.9 v-6.5 M461.01 1541.9 v-2 M467.77 1541.9 v-6.5 M474.54 1541.9 v-15.6 M481.3 1541.9 v-8.8 M488.06 1541.9 v-4.3 M494.83 1541.9 v-6.5 M501.59 1541.9 v-2 M508.35 1541.9 v-2 M515.12 1541.9 v-11.1 M521.88 1541.9 v-6.5 M528.64 1541.9 v-4.3 M535.4 1541.9 v-2 M542.17 1541.9 v-6.5 M548.93 1541.9 v-6.5 M555.69 1541.9 v-4.3 M562.46 1541.9 v-6.5 M569.22 1541.9 v-4.3 M575.98 1541.9 v-4.3 M582.75 1541.9 v-4.3 M589.51 1541.9 v-2 M596.27 1541.9 v-6.5 M603.03 1541.9 v-2.3 M616.56 1541.9 v-4.3 M623.32 1541.9 v-6.8 M630.09 1541.9 v-4.6 M636.85 1541.9 v-2.3 M643.61 1541.9 v-4.6 M657.14 1541.9 v-9.5 M677.43 1541.9 v-2.3 M684.19 1541.9 v-2.3 M690.95 1541.9 v-4.6 M697.72 1541.9 v-7 M704.48 1541.9 v-7 M711.24 1541.9 v-7 M718 1541.9 v-4.6 M724.77 1541.9 v-2.3 M731.53 1541.9 v-4.6 M738.29 1541.9 v-4.6 M745.06 1541.9 v-4.6 M751.82 1541.9 v-2.3 M765.35 1541.9 v-6.8" stroke="#2a2a2a" stroke-width="1.35" fill="none"/>
<line x1="518.7" y1="1397.1" x2="545.7" y2="1397.1" stroke="#d9d9d9" stroke-width="7" stroke-linecap="round"/>
<line x1="518.7" y1="1414.85" x2="545.7" y2="1414.85" stroke="#1c1c1c" stroke-width="1.35"/>
<line x1="518.7" y1="1432.6" x2="545.7" y2="1432.6" stroke="#333" stroke-width="1.35" stroke-dasharray="1.35 4" />
<text x="558" y="1401.5" font-size="14">Ideal</text>
<text x="558" y="1419.25" font-size="14">Logistic calibration</text>
<text x="558" y="1437" font-size="14">Nonparametric</text>
<text x="5" y="950.6" font-size="40.6">(C)</text>
<path d="M1057.3 1565.1 V1578.1 M1192.72 1565.1 V1578.1 M1328.14 1565.1 V1578.1 M1463.56 1565.1 V1578.1 M1598.98 1565.1 V1578.1 M1734.4 1565.1 V1578.1 M1030.2 1540.9 H1017.2 M1030.2 1419.78 H1017.2 M1030.2 1298.66 H1017.2 M1030.2 1177.54 H1017.2 M1030.2 1056.42 H1017.2 M1030.2 935.3 H1017.2 M1057.3 1565.1 H1734.4 M1030.2 1540.9 V935.3" stroke="#1c1c1c" stroke-width="1.35" fill="none"/>
<text x="1057.3" y="1611" text-anchor="middle" font-size="21.2">0.0</text>
<text x="1192.72" y="1611" text-anchor="middle" font-size="21.2">0.2</text>
<text x="1328.14" y="1611" text-anchor="middle" font-size="21.2">0.4</text>
<text x="1463.56" y="1611" text-anchor="middle" font-size="21.2">0.6</text>
<text x="1598.98" y="1611" text-anchor="middle" font-size="21.2">0.8</text>
<text x="1734.4" y="1611" text-anchor="middle" font-size="21.2">1.0</text>
<text transform="translate(999.3 1540.9) rotate(-90)" text-anchor="middle" font-size="21.2">0.0</text>
<text transform="translate(999.3 1419.78) rotate(-90)" text-anchor="middle" font-size="21.2">0.2</text>
<text transform="translate(999.3 1298.66) rotate(-90)" text-anchor="middle" font-size="21.2">0.4</text>
<text transform="translate(999.3 1177.54) rotate(-90)" text-anchor="middle" font-size="21.2">0.6</text>
<text transform="translate(999.3 1056.42) rotate(-90)" text-anchor="middle" font-size="21.2">0.8</text>
<text transform="translate(999.3 935.3) rotate(-90)" text-anchor="middle" font-size="21.2">1.0</text>
<text x="1395.85" y="1661.5" text-anchor="middle" font-size="21.2">Predicted Probability</text>
<text transform="translate(948.5 1238.05) rotate(-90)" text-anchor="middle" font-size="21.2">Actual Probability</text>
<rect x="1030.2" y="911" width="731.3" height="654.1" fill="none" stroke="#1c1c1c" stroke-width="1.35"/>
<line x1="1030.2" y1="1565.1" x2="1761.5" y2="911" stroke="#d9d9d9" stroke-width="7" stroke-linecap="round" clip-path="url(#gD)"/>
<g clip-path="url(#cD)">
<path d="M1068.7 1518.8 C1069.5 1517.18 1072.23 1511.55 1073.5 1509.1 C1074.77 1506.65 1075.48 1505.75 1076.3 1504.1 C1077.12 1502.45 1077.6 1500.82 1078.4 1499.2 C1079.2 1497.58 1080.27 1496.02 1081.1 1494.4 C1081.93 1492.78 1082.58 1491.12 1083.4 1489.5 C1084.22 1487.88 1085.15 1486.28 1086 1484.7 C1086.85 1483.12 1087.25 1482.45 1088.5 1480 C1089.75 1477.55 1091.88 1473.25 1093.5 1470 C1095.12 1466.75 1096.67 1463.58 1098.2 1460.5 C1099.73 1457.42 1101.43 1453.92 1102.7 1451.5 C1103.97 1449.08 1104.82 1447.72 1105.8 1446 C1106.78 1444.28 1107.68 1442.8 1108.6 1441.2 C1109.52 1439.6 1110.42 1438 1111.3 1436.4 C1112.18 1434.8 1113.03 1433.18 1113.9 1431.6 C1114.77 1430.02 1115.62 1428.48 1116.5 1426.9 C1117.38 1425.32 1118.32 1423.73 1119.2 1422.1 C1120.08 1420.47 1121.02 1418.77 1121.8 1417.1 C1122.58 1415.43 1122.78 1414.08 1123.9 1412.1 C1125.02 1410.12 1126.95 1407.48 1128.5 1405.2 C1130.05 1402.92 1132.08 1400.37 1133.2 1398.4 C1134.32 1396.43 1134.4 1395.03 1135.2 1393.4 C1136 1391.77 1137.05 1390.15 1138 1388.6 C1138.95 1387.05 1139.98 1385.65 1140.9 1384.1 C1141.82 1382.55 1142.58 1380.85 1143.5 1379.3 C1144.42 1377.75 1145.45 1376.38 1146.4 1374.8 C1147.35 1373.22 1148.28 1371.38 1149.2 1369.8 C1150.12 1368.22 1150.97 1366.85 1151.9 1365.3 C1152.83 1363.75 1153.83 1362.05 1154.8 1360.5 C1155.77 1358.95 1156.75 1357.52 1157.7 1356 C1158.65 1354.48 1159.47 1352.92 1160.5 1351.4 C1161.53 1349.88 1162.82 1348.42 1163.9 1346.9 C1164.98 1345.38 1165.88 1343.73 1167 1342.3 C1168.12 1340.87 1169.37 1339.48 1170.6 1338.3 C1171.83 1337.12 1173.3 1335.88 1174.4 1335.2 C1175.5 1334.52 1176.28 1334.33 1177.2 1334.2 C1178.12 1334.07 1178.57 1334.2 1179.9 1334.4 C1181.23 1334.6 1183.48 1334.92 1185.2 1335.4 C1186.92 1335.88 1188.57 1336.47 1190.2 1337.3 C1191.83 1338.13 1193.45 1339.4 1195 1340.4 C1196.55 1341.4 1198 1342.3 1199.5 1343.3 C1201 1344.3 1202.45 1345.53 1204 1346.4 C1205.55 1347.27 1207.12 1347.9 1208.8 1348.5 C1210.48 1349.1 1212.3 1349.87 1214.1 1350 C1215.9 1350.13 1218.07 1349.87 1219.6 1349.3 C1221.13 1348.73 1221.9 1347.73 1223.3 1346.6 C1224.7 1345.47 1226.53 1343.82 1228 1342.5 C1229.47 1341.18 1230.07 1340.62 1232.1 1338.7 C1234.13 1336.78 1237.97 1333.25 1240.2 1331 C1242.43 1328.75 1243.77 1327.22 1245.5 1325.2 C1247.23 1323.18 1249.15 1320.67 1250.6 1318.9 C1252.05 1317.13 1253 1316 1254.2 1314.6 C1255.4 1313.2 1256.65 1311.9 1257.8 1310.5 C1258.95 1309.1 1259.95 1307.6 1261.1 1306.2 C1262.25 1304.8 1263.5 1303.45 1264.7 1302.1 C1265.9 1300.75 1267.1 1299.48 1268.3 1298.1 C1269.5 1296.72 1270.75 1295.2 1271.9 1293.8 C1273.05 1292.4 1274.1 1291.13 1275.2 1289.7 C1276.3 1288.27 1277.35 1286.63 1278.5 1285.2 C1279.65 1283.77 1280.87 1282.47 1282.1 1281.1 C1283.33 1279.73 1284.62 1278.27 1285.9 1277 C1287.18 1275.73 1288.48 1274.68 1289.8 1273.5 C1291.12 1272.32 1292.42 1271.1 1293.8 1269.9 C1295.18 1268.7 1295.95 1268.07 1298.1 1266.3 C1300.25 1264.53 1303.75 1261.5 1306.7 1259.3 C1309.65 1257.1 1312.82 1255.17 1315.8 1253.1 C1318.78 1251.03 1321.7 1249.05 1324.6 1246.9 C1327.5 1244.75 1330.37 1242.47 1333.2 1240.2 C1336.03 1237.93 1338.93 1235.73 1341.6 1233.3 C1344.27 1230.87 1346.65 1228.15 1349.2 1225.6 C1351.75 1223.05 1354.38 1220.7 1356.9 1218 C1359.42 1215.3 1361.75 1212.15 1364.3 1209.4 C1366.85 1206.65 1370.35 1203.48 1372.2 1201.5 C1374.05 1199.52 1374.27 1198.82 1375.4 1197.5 C1376.53 1196.18 1377.82 1194.95 1379 1193.6 C1380.18 1192.25 1381.32 1190.77 1382.5 1189.4 C1383.68 1188.03 1384.87 1186.77 1386.1 1185.4 C1387.33 1184.03 1388.68 1182.58 1389.9 1181.2 C1391.12 1179.82 1392.22 1178.48 1393.4 1177.1 C1394.58 1175.72 1395.82 1174.27 1397 1172.9 C1398.18 1171.53 1399.28 1170.23 1400.5 1168.9 C1401.72 1167.57 1403.03 1166.23 1404.3 1164.9 C1405.57 1163.57 1406.78 1162.18 1408.1 1160.9 C1409.42 1159.62 1410.82 1158.38 1412.2 1157.2 C1413.58 1156.02 1415 1154.95 1416.4 1153.8 C1417.8 1152.65 1419.17 1151.45 1420.6 1150.3 C1422.03 1149.15 1423.53 1147.98 1425 1146.9 C1426.47 1145.82 1427.9 1144.77 1429.4 1143.8 C1430.9 1142.83 1432.4 1142 1434 1141.1 C1435.6 1140.2 1436.53 1139.7 1439 1138.4 C1441.47 1137.1 1445.58 1134.98 1448.8 1133.3 C1452.02 1131.62 1455.08 1129.87 1458.3 1128.3 C1461.52 1126.73 1464.78 1125.37 1468.1 1123.9 C1471.42 1122.43 1474.82 1120.97 1478.2 1119.5 C1481.58 1118.03 1485.07 1116.63 1488.4 1115.1 C1491.73 1113.57 1494.93 1111.95 1498.2 1110.3 C1501.47 1108.65 1504.78 1106.83 1508 1105.2 C1511.22 1103.57 1514.22 1102.13 1517.5 1100.5 C1520.78 1098.87 1524.42 1097.03 1527.7 1095.4 C1530.98 1093.77 1534.07 1092.35 1537.2 1090.7 C1540.33 1089.05 1543.3 1087.27 1546.5 1085.5 C1549.7 1083.73 1553.15 1081.9 1556.4 1080.1 C1559.65 1078.3 1562.85 1076.43 1566 1074.7 C1569.15 1072.97 1572.12 1071.43 1575.3 1069.7 C1578.48 1067.97 1581.87 1066.1 1585.1 1064.3 C1588.33 1062.5 1591.47 1060.62 1594.7 1058.9 C1597.93 1057.18 1601.28 1055.72 1604.5 1054 C1607.72 1052.28 1610.92 1050.42 1614 1048.6 C1617.08 1046.78 1619.82 1044.9 1623 1043.1 C1626.18 1041.3 1629.77 1039.45 1633.1 1037.8 C1636.43 1036.15 1639.77 1034.82 1643 1033.2 C1646.23 1031.58 1649.32 1029.8 1652.5 1028.1 C1655.68 1026.4 1658.85 1024.68 1662.1 1023 C1665.35 1021.32 1668.77 1019.63 1672 1018 C1675.23 1016.37 1678.27 1014.85 1681.5 1013.2 C1684.73 1011.55 1688.12 1009.75 1691.4 1008.1 C1694.68 1006.45 1697.92 1004.9 1701.2 1003.3 C1704.48 1001.7 1708.65 999.68 1711.1 998.5 C1713.55 997.32 1715.1 996.58 1715.9 996.2" stroke="#444" stroke-width="1.35" fill="none" stroke-dasharray="1.35 3.9"/>
<path d="M1057.8 1535.18 L1059.3 1530.33 1060.81 1525.65 1062.31 1521.14 1063.81 1516.79 1065.31 1512.59 1066.82 1508.54 1068.32 1504.63 1069.82 1500.85 1071.32 1497.2 1072.83 1493.66 1074.33 1490.24 1075.83 1486.92 1077.33 1483.71 1078.84 1480.59 1080.34 1477.57 1081.84 1474.63 1083.35 1471.77 1084.85 1468.98 1086.35 1466.26 1087.85 1463.61 1089.36 1461.01 1090.86 1458.47 1092.36 1455.98 1093.86 1453.52 1095.37 1451.11 1096.87 1448.72 1098.37 1446.36 1099.87 1444.04 1101.38 1441.74 1102.88 1439.47 1104.38 1437.23 1105.89 1435.01 1107.39 1432.82 1108.89 1430.66 1110.39 1428.53 1111.9 1426.41 1113.4 1424.33 1114.9 1422.26 1116.4 1420.22 1117.91 1418.21 1119.41 1416.21 1120.91 1414.24 1122.41 1412.29 1123.92 1410.37 1125.42 1408.46 1126.92 1406.57 1128.43 1404.7 1129.93 1402.85 1131.43 1401.02 1132.93 1399.21 1134.44 1397.42 1135.94 1395.64 1137.44 1393.88 1138.94 1392.14 1140.45 1390.41 1141.95 1388.7 1143.45 1387 1144.95 1385.32 1146.46 1383.65 1147.96 1382 1149.46 1380.35 1150.97 1378.72 1152.47 1377.1 1153.97 1375.5 1155.47 1373.9 1156.98 1372.31 1158.48 1370.74 1159.98 1369.17 1161.48 1367.61 1162.99 1366.06 1164.49 1364.52 1165.99 1362.99 1167.49 1361.47 1169 1359.95 1170.5 1358.45 1172 1356.95 1173.51 1355.46 1175.01 1353.98 1176.51 1352.51 1178.01 1351.04 1179.52 1349.59 1181.02 1348.14 1182.52 1346.7 1184.02 1345.26 1185.53 1343.84 1187.03 1342.42 1188.53 1341.01 1190.03 1339.61 1191.54 1338.21 1193.04 1336.82 1194.54 1335.44 1196.05 1334.07 1197.55 1332.7 1199.05 1331.34 1200.55 1329.99 1202.06 1328.64 1203.56 1327.3 1205.06 1325.97 1206.56 1324.65 1208.07 1323.33 1209.57 1322.02 1211.07 1320.71 1212.57 1319.41 1214.08 1318.12 1215.58 1316.83 1217.08 1315.55 1218.59 1314.28 1220.09 1313.01 1221.59 1311.74 1223.09 1310.49 1224.6 1309.24 1226.1 1307.99 1227.6 1306.75 1229.1 1305.52 1230.61 1304.29 1232.11 1303.07 1233.61 1301.85 1235.11 1300.64 1236.62 1299.43 1238.12 1298.23 1239.62 1297.03 1241.13 1295.84 1242.63 1294.65 1244.13 1293.47 1245.63 1292.29 1247.14 1291.12 1248.64 1289.95 1250.14 1288.79 1251.64 1287.63 1253.15 1286.47 1254.65 1285.32 1256.15 1284.18 1257.65 1283.04 1259.16 1281.9 1260.66 1280.76 1262.16 1279.64 1263.67 1278.51 1265.17 1277.39 1266.67 1276.27 1268.17 1275.15 1269.68 1274.04 1271.18 1272.94 1272.68 1271.83 1274.18 1270.73 1275.69 1269.63 1277.19 1268.54 1278.69 1267.45 1280.19 1266.36 1281.7 1265.28 1283.2 1264.2 1284.7 1263.12 1286.21 1262.04 1287.71 1260.97 1289.21 1259.9 1290.71 1258.83 1292.22 1257.76 1293.72 1256.7 1295.22 1255.64 1296.72 1254.58 1298.23 1253.53 1299.73 1252.47 1301.23 1251.42 1302.73 1250.37 1304.24 1249.32 1305.74 1248.27 1307.24 1247.23 1308.75 1246.19 1310.25 1245.15 1311.75 1244.11 1313.25 1243.07 1314.76 1242.03 1316.26 1241 1317.76 1239.96 1319.26 1238.93 1320.77 1237.9 1322.27 1236.87 1323.77 1235.84 1325.27 1234.81 1326.78 1233.78 1328.28 1232.75 1329.78 1231.73 1331.29 1230.7 1332.79 1229.68 1334.29 1228.65 1335.79 1227.63 1337.3 1226.6 1338.8 1225.58 1340.3 1224.55 1341.8 1223.53 1343.31 1222.51 1344.81 1221.48 1346.31 1220.46 1347.81 1219.44 1349.32 1218.42 1350.82 1217.4 1352.32 1216.38 1353.83 1215.36 1355.33 1214.34 1356.83 1213.32 1358.33 1212.3 1359.84 1211.28 1361.34 1210.27 1362.84 1209.25 1364.34 1208.24 1365.85 1207.23 1367.35 1206.21 1368.85 1205.2 1370.35 1204.19 1371.86 1203.19 1373.36 1202.18 1374.86 1201.17 1376.37 1200.17 1377.87 1199.16 1379.37 1198.16 1380.87 1197.16 1382.38 1196.16 1383.88 1195.16 1385.38 1194.17 1386.88 1193.17 1388.39 1192.18 1389.89 1191.19 1391.39 1190.2 1392.89 1189.22 1394.4 1188.23 1395.9 1187.25 1397.4 1186.27 1398.91 1185.29 1400.41 1184.31 1401.91 1183.33 1403.41 1182.36 1404.92 1181.39 1406.42 1180.42 1407.92 1179.46 1409.42 1178.49 1410.93 1177.53 1412.43 1176.57 1413.93 1175.61 1415.43 1174.66 1416.94 1173.71 1418.44 1172.76 1419.94 1171.81 1421.45 1170.87 1422.95 1169.93 1424.45 1168.99 1425.95 1168.06 1427.46 1167.12 1428.96 1166.19 1430.46 1165.27 1431.96 1164.35 1433.47 1163.42 1434.97 1162.51 1436.47 1161.59 1437.97 1160.68 1439.48 1159.77 1440.98 1158.86 1442.48 1157.95 1443.99 1157.04 1445.49 1156.14 1446.99 1155.24 1448.49 1154.34 1450 1153.44 1451.5 1152.54 1453 1151.64 1454.5 1150.75 1456.01 1149.85 1457.51 1148.96 1459.01 1148.06 1460.51 1147.17 1462.02 1146.28 1463.52 1145.39 1465.02 1144.49 1466.53 1143.6 1468.03 1142.71 1469.53 1141.81 1471.03 1140.92 1472.54 1140.03 1474.04 1139.13 1475.54 1138.24 1477.04 1137.34 1478.55 1136.44 1480.05 1135.54 1481.55 1134.64 1483.05 1133.74 1484.56 1132.84 1486.06 1131.93 1487.56 1131.03 1489.07 1130.12 1490.57 1129.21 1492.07 1128.3 1493.57 1127.38 1495.08 1126.47 1496.58 1125.55 1498.08 1124.63 1499.58 1123.7 1501.09 1122.77 1502.59 1121.84 1504.09 1120.91 1505.59 1119.97 1507.1 1119.03 1508.6 1118.09 1510.1 1117.14 1511.61 1116.19 1513.11 1115.23 1514.61 1114.28 1516.11 1113.32 1517.62 1112.35 1519.12 1111.39 1520.62 1110.42 1522.12 1109.45 1523.63 1108.47 1525.13 1107.5 1526.63 1106.52 1528.13 1105.54 1529.64 1104.56 1531.14 1103.58 1532.64 1102.59 1534.15 1101.61 1535.65 1100.62 1537.15 1099.63 1538.65 1098.64 1540.16 1097.65 1541.66 1096.66 1543.16 1095.66 1544.66 1094.67 1546.17 1093.68 1547.67 1092.69 1549.17 1091.69 1550.67 1090.7 1552.18 1089.7 1553.68 1088.71 1555.18 1087.72 1556.69 1086.73 1558.19 1085.73 1559.69 1084.74 1561.19 1083.75 1562.7 1082.77 1564.2 1081.78 1565.7 1080.79 1567.2 1079.8 1568.71 1078.82 1570.21 1077.84 1571.71 1076.85 1573.21 1075.87 1574.72 1074.89 1576.22 1073.9 1577.72 1072.92 1579.23 1071.94 1580.73 1070.96 1582.23 1069.98 1583.73 1068.99 1585.24 1068.01 1586.74 1067.03 1588.24 1066.05 1589.74 1065.06 1591.25 1064.08 1592.75 1063.09 1594.25 1062.11 1595.75 1061.12 1597.26 1060.13 1598.76 1059.14 1600.26 1058.15 1601.77 1057.16 1603.27 1056.17 1604.77 1055.17 1606.27 1054.18 1607.78 1053.18 1609.28 1052.18 1610.78 1051.18 1612.28 1050.17 1613.79 1049.17 1615.29 1048.16 1616.79 1047.15 1618.29 1046.13 1619.8 1045.12 1621.3 1044.1 1622.8 1043.08 1624.31 1042.05 1625.81 1041.03 1627.31 1040 1628.81 1038.96 1630.32 1037.93 1631.82 1036.89 1633.32 1035.84 1634.82 1034.8 1636.33 1033.75 1637.83 1032.69 1639.33 1031.63 1640.83 1030.57 1642.34 1029.5 1643.84 1028.43 1645.34 1027.36 1646.85 1026.28 1648.35 1025.2 1649.85 1024.11 1651.35 1023.02 1652.86 1021.92 1654.36 1020.82 1655.86 1019.71 1657.36 1018.6 1658.87 1017.48 1660.37 1016.36 1661.87 1015.23 1663.37 1014.09 1664.88 1012.95 1666.38 1011.8 1667.88 1010.64 1669.39 1009.47 1670.89 1008.29 1672.39 1007.1 1673.89 1005.89 1675.4 1004.68 1676.9 1003.45 1678.4 1002.22 1679.9 1000.96 1681.41 999.7 1682.91 998.41 1684.41 997.12 1685.91 995.8 1687.42 994.47 1688.92 993.12 1690.42 991.76 1691.93 990.37 1693.43 988.97 1694.93 987.55 1696.43 986.1 1697.94 984.64 1699.44 983.15 1700.94 981.64 1702.44 980.11 1703.95 978.55 1705.45 976.97 1706.95 975.36 1708.45 973.73 1709.96 972.07 1711.46 970.39 1712.96 968.68 1714.47 966.93 1715.97 965.15 1717.47 963.32 1718.97 961.44 1720.48 959.5 1721.98 957.5 1723.48 955.43 1724.98 953.28 1726.49 951.05 1727.99 948.73 1729.49 946.32 1730.99 943.8 1732.5 941.18 1734 938.45" stroke="#1c1c1c" stroke-width="1.35" fill="none"/>
</g>
<path d="M1064.07 1540.9 v-39 M1070.84 1540.9 v-26.8 M1077.61 1540.9 v-51.9 M1084.38 1540.9 v-39 M1091.15 1540.9 v-91.2 M1097.93 1540.9 v-51.9 M1111.47 1540.9 v-39 M1118.24 1540.9 v-64.7 M1125.01 1540.9 v-51.9 M1131.78 1540.9 v-39 M1138.55 1540.9 v-64.7 M1145.32 1540.9 v-91.2 M1152.09 1540.9 v-78.3 M1158.87 1540.9 v-13.3 M1165.64 1540.9 v-39 M1172.41 1540.9 v-39 M1179.18 1540.9 v-26.1 M1185.95 1540.9 v-26.1 M1192.72 1540.9 v-26.1 M1199.49 1540.9 v-64.7 M1206.26 1540.9 v-39 M1213.03 1540.9 v-26.1 M1219.8 1540.9 v-26.1 M1233.35 1540.9 v-13.3 M1246.89 1540.9 v-39 M1273.97 1540.9 v-65 M1280.74 1540.9 v-13.1 M1287.51 1540.9 v-13.1 M1294.28 1540.9 v-13.1 M1301.06 1540.9 v-39.3 M1307.83 1540.9 v-26.1 M1321.37 1540.9 v-26.1 M1341.68 1540.9 v-13.1 M1361.99 1540.9 v-13.1 M1375.54 1540.9 v-26.1 M1382.31 1540.9 v-13.1 M1389.08 1540.9 v-13.1 M1395.85 1540.9 v-13.1 M1409.39 1540.9 v-39.3 M1422.93 1540.9 v-13.1 M1456.79 1540.9 v-26.1 M1463.56 1540.9 v-13.1 M1477.1 1540.9 v-13.1 M1483.87 1540.9 v-26.1 M1504.19 1540.9 v-13.1 M1531.27 1540.9 v-13.1 M1544.81 1540.9 v-13.1 M1592.21 1540.9 v-13.1 M1605.75 1540.9 v-13.1 M1632.84 1540.9 v-26.1 M1639.61 1540.9 v-26.1 M1666.69 1540.9 v-26.1 M1700.55 1540.9 v-26.1 M1714.09 1540.9 v-13.1" stroke="#2a2a2a" stroke-width="1.35" fill="none"/>
<line x1="1433.7" y1="1395" x2="1460.4" y2="1395" stroke="#d9d9d9" stroke-width="7" stroke-linecap="round"/>
<line x1="1433.7" y1="1412.9" x2="1460.4" y2="1412.9" stroke="#1c1c1c" stroke-width="1.35"/>
<line x1="1433.7" y1="1430.8" x2="1460.4" y2="1430.8" stroke="#333" stroke-width="1.35" stroke-dasharray="1.35 4" />
<text x="1472.5" y="1399.3" font-size="14">Ideal</text>
<text x="1472.5" y="1417.2" font-size="14">Logistic calibration</text>
<text x="1472.5" y="1435.1" font-size="14">Nonparametric</text>
<text x="916" y="949.9" font-size="40.6">(D)</text>
</svg>
</body></html>
